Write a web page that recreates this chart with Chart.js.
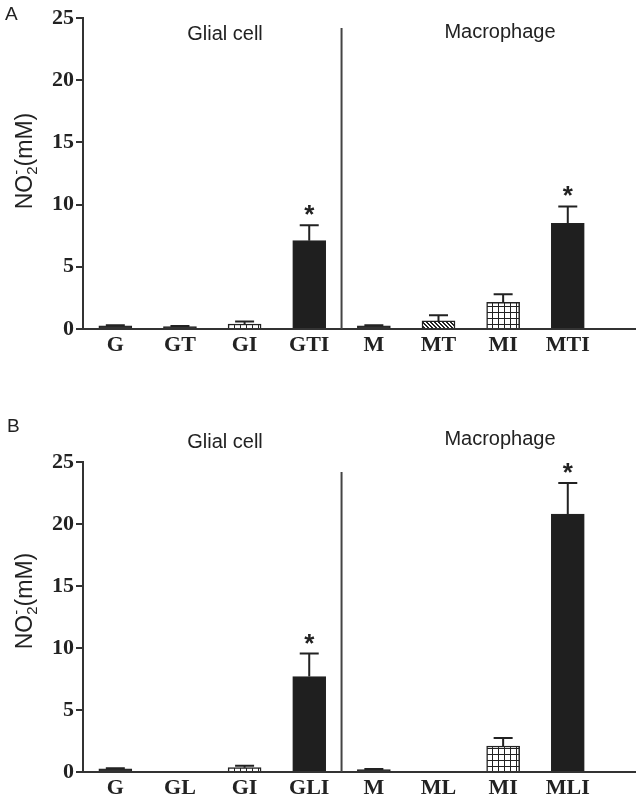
<!DOCTYPE html>
<html><head><meta charset="utf-8">
<script src="https://cdn.jsdelivr.net/npm/chart.js@4/dist/chart.umd.min.js"></script>
<style>
html,body{margin:0;padding:0;background:#fff;}
#wrap{position:relative;width:638px;height:805px;overflow:hidden;}
.box{position:absolute;left:0;width:638px;}
</style></head><body>
<div id="wrap">
<div class="box" style="top:0;height:400px"><canvas id="cA"></canvas></div>
<div class="box" style="top:400px;height:405px"><canvas id="cB"></canvas></div>
</div>
<script>
// ---- data ----
const categoriesA = ['G','GT','GI','GTI','M','MT','MI','MTI'];
const valuesA     = [0.25, 0.2, 0.4, 7.1, 0.25, 0.65, 2.15, 8.5];
const errorsA     = [0.05, 0.05, 0.2, 1.25, 0.05, 0.45, 0.65, 1.35];
const starsA      = [0, 0, 0, 1, 0, 0, 0, 1];

const categoriesB = ['G','GL','GI','GLI','M','ML','MI','MLI'];
const valuesB     = [0.25, 0, 0.35, 7.7, 0.2, 0, 2.1, 20.8];
const errorsB     = [0.05, 0, 0.15, 1.85, 0.05, 0, 0.65, 2.5];
const starsB      = [0, 0, 0, 1, 0, 0, 0, 1];

const yTicks = [0, 5, 10, 15, 20, 25];
const groupTitles = ['Glial cell', 'Macrophage'];

// ---- styles ----
const fillsA = ['dark','dark','grid','black','dark','diag','grid','black'];
const fillsB = ['dark','dark','grid','black','dark','dark','grid','black'];

function makePattern(kind){
  const c = document.createElement('canvas');
  const g = c.getContext('2d');
  if (kind === 'grid'){
    c.width = c.height = 6;
    g.fillStyle = '#fff'; g.fillRect(0,0,6,6);
    g.fillStyle = '#222'; g.fillRect(0,0,6,1); g.fillRect(0,0,1,6);
  } else {
    c.width = c.height = 4;
    g.fillStyle = '#fff'; g.fillRect(0,0,4,4);
    g.fillStyle = '#222';
    for (let i=0;i<4;i++){ g.fillRect(i,i,1,1); g.fillRect((i+1)%4,i,1,1); }
  }
  return g.createPattern(c,'repeat');
}
const patterns = { grid: makePattern('grid'), diag: makePattern('diag'), dark: '#333', black: '#1f1f1f' };

const SANS = '"Liberation Sans", Arial, sans-serif';
const SERIF = '"Liberation Serif", "Times New Roman", serif';

function makeChart(id, cfg){
  const overlay = {
    id: 'overlay',
    afterDatasetsDraw(chart){
      const ctx = chart.ctx, xs = chart.scales.x, ys = chart.scales.y;
      const meta = chart.getDatasetMeta(0);
      ctx.save();
      // error bars
      ctx.strokeStyle = '#222'; ctx.lineWidth = 2;
      cfg.values.forEach((v,i)=>{
        const e = cfg.errors[i];
        if (!e) return;
        const x = meta.data[i].x;
        const y0 = ys.getPixelForValue(v), y1 = ys.getPixelForValue(v+e);
        ctx.beginPath();
        ctx.moveTo(x, y0); ctx.lineTo(x, y1);
        ctx.moveTo(x-9.5, y1); ctx.lineTo(x+9.5, y1);
        ctx.stroke();
        if (cfg.stars[i]){
          ctx.fillStyle = '#222';
          ctx.font = 'bold 26px ' + SANS; ctx.textAlign = 'center'; ctx.textBaseline = 'alphabetic';
          ctx.fillText('*', x, y1 - 2);
        }
      });
      // separator
      const sx = xs.getPixelForValue(3.5);
      ctx.strokeStyle = '#444'; ctx.lineWidth = 2;
      ctx.beginPath();
      ctx.moveTo(sx, ys.getPixelForValue(0)); ctx.lineTo(sx, ys.getPixelForValue(24.2));
      ctx.stroke();
      // group titles
      ctx.fillStyle = '#222'; ctx.font = '20px ' + SANS; ctx.textAlign = 'center'; ctx.textBaseline = 'alphabetic';
      ctx.fillText(groupTitles[0], 225, cfg.titleY[0]);
      ctx.fillText(groupTitles[1], 500, cfg.titleY[1]);
      // panel letter
      ctx.textAlign = 'left'; ctx.font = '19px ' + SANS;
      ctx.fillText(cfg.letter, cfg.letterPos[0], cfg.letterPos[1]);
      // y title NO2-(mM)
      ctx.translate(32, cfg.yTitleY);
      ctx.rotate(-Math.PI/2);
      const big = '23px ' + SANS, small = '15px ' + SANS;
      ctx.font = big; const w1 = ctx.measureText('NO').width, w3 = ctx.measureText('(mM)').width;
      ctx.font = small; const w2 = ctx.measureText('2').width;
      let px = -(w1+w2+w3)/2;
      ctx.font = big; ctx.fillText('NO', px, 0); px += w1;
      ctx.font = small; ctx.fillText('2', px, 5); ctx.fillText('-', px, -11); px += w2;
      ctx.font = big; ctx.fillText('(mM)', px, 0);
      ctx.restore();
    }
  };

  return new Chart(document.getElementById(id), {
    type: 'bar',
    data: {
      datasets: [{
        data: cfg.values.map((v,i)=>({x:i, y:v})),
        backgroundColor: cfg.fills.map(f=>patterns[f]),
        borderColor: '#222',
        borderWidth: c => (c.raw && c.raw.y === 0) ? 0 : 1.5,
        barThickness: 33
      }]
    },
    options: {
      responsive: true, maintainAspectRatio: false, animation: false,
      devicePixelRatio: 1,
      layout: { padding: { top: cfg.top, right: 3, left: 0, bottom: 0 } },
      plugins: { legend: {display:false}, tooltip: {enabled:false} },
      scales: {
        x: {
          type: 'linear', min: -0.5, max: 8.04, offset: false,
          afterBuildTicks: s => { s.ticks = cfg.cats.map((c,i)=>({value:i})); },
          afterFit: s => { s.height = cfg.xHeight; },
          grid: { display: false },
          border: { display: true, color: '#333', width: 2 },
          ticks: { callback: v => cfg.cats[v], font: { family: SERIF, size: 22, weight: 'bold' }, color: '#222', padding: -5, maxRotation: 0, autoSkip: false }
        },
        y: {
          min: 0, max: 25,
          afterBuildTicks: s => { s.ticks = yTicks.map(v=>({value:v})); },
          afterFit: s => { s.width = 83; },
          grid: { display: true, drawOnChartArea: false, drawTicks: true, tickLength: 7, color: '#333', lineWidth: 2 },
          border: { display: true, color: '#333', width: 2 },
          ticks: { font: { family: SERIF, size: 22, weight: 'bold' }, color: '#222', padding: 2 }
        }
      }
    },
    plugins: [overlay]
  });
}

makeChart('cA', { cats: categoriesA, values: valuesA, errors: errorsA, stars: starsA, fills: fillsA,
  top: 18, xHeight: 71, titleY: [40, 38], letter: 'A', letterPos: [5, 20], yTitleY: 161 });
makeChart('cB', { cats: categoriesB, values: valuesB, errors: errorsB, stars: starsB, fills: fillsB,
  top: 62, xHeight: 33, titleY: [48, 45], letter: 'B', letterPos: [7, 32], yTitleY: 201 });
</script>
</body></html>
